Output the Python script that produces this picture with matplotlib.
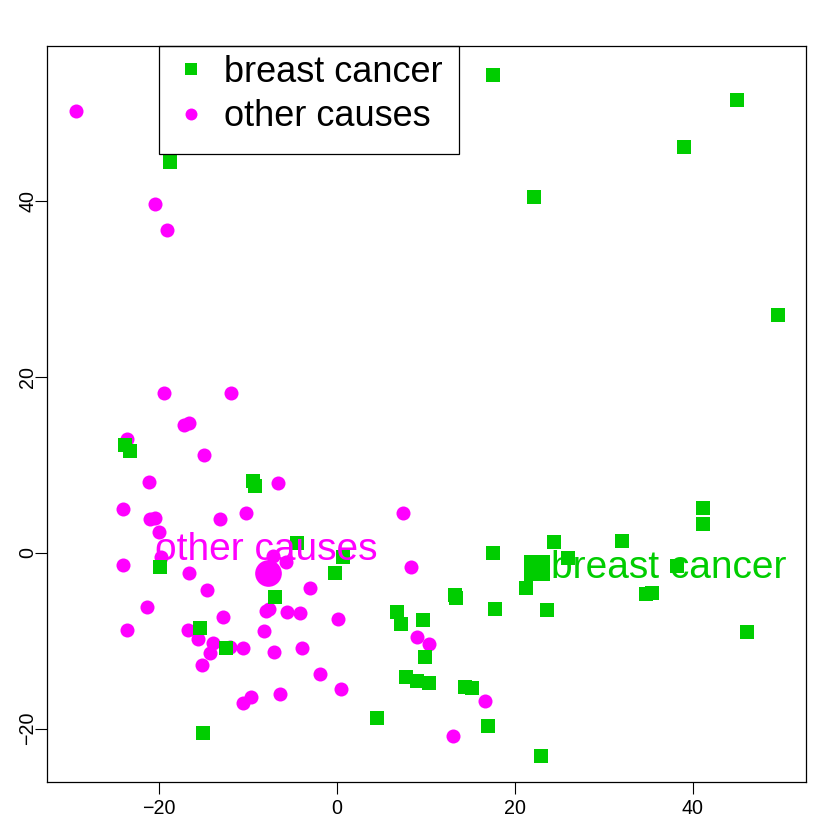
import matplotlib
matplotlib.use("Agg")
import matplotlib.pyplot as plt
from matplotlib.lines import Line2D
from matplotlib.patches import Rectangle

plt.rcParams['font.family'] = ['Liberation Sans', 'DejaVu Sans']

# ---- data -------------------------------------------------------------
bc_x = [17.51, 45.0, 39.07, 22.19, 49.64, -18.82, -23.81, -23.28, -9.41, -9.22,
        -19.94, -4.47, 0.64, -0.22, -7.01, -15.41, -12.45, -15.11, 6.72, 7.17,
        9.71, 9.90, 7.76, 9.03, 10.31, 14.40, 15.19, 4.50, 16.99, 22.98,
        13.27, 13.39, 21.23, 17.77, 23.59, 17.58, 24.41, 25.95, 32.02, 38.21,
        34.76, 35.43, 46.15, 41.20, 41.20, 21.93, 22.95]
bc_y = [54.35, 51.46, 46.11, 40.42, 27.0, 44.48, 12.25, 11.52, 8.11, 7.62,
        -1.67, 1.10, -0.53, -2.24, -5.01, -8.53, -10.84, -20.44, -6.71, -8.11,
        -7.66, -11.83, -14.07, -14.56, -14.76, -15.24, -15.32, -18.81, -19.68, -23.09,
        -4.78, -5.12, -4.02, -6.34, -6.48, -0.03, 1.25, -0.60, 1.37, -1.48,
        -4.66, -4.55, -8.99, 5.04, 3.27, -1.25, -2.16]

oc_x = [-29.39, -20.47, -19.09, -19.43, -11.89, -17.24, -16.68, -23.59, -14.93, -21.15,
        -6.60, -24.07, -21.0, -20.44, -13.13, -10.20, -20.02, -19.80, -24.11, -16.65,
        -5.77, -7.17, 7.39, 8.36, -14.66, -3.04, -21.41, -7.99, -7.65, -5.59,
        -4.16, -12.86, 0.15, -23.62, -16.76, -15.64, -8.25, -13.91, -12.04, -10.54,
        -14.29, -7.09, -3.97, -15.22, -1.91, -9.71, -10.61, -6.41, 0.45, 8.97,
        10.31, 16.65, 13.08]
oc_y = [50.28, 39.67, 36.71, 18.12, 18.12, 14.56, 14.76, 12.94, 11.15, 8.08,
        7.93, 4.93, 3.79, 3.95, 3.83, 4.47, 2.31, -0.46, -1.40, -2.31,
        -1.10, -0.34, 4.58, -1.67, -4.21, -3.95, -6.14, -6.60, -6.34, -6.71,
        -6.79, -7.28, -7.47, -8.76, -8.79, -9.75, -8.84, -10.24, -10.69, -10.81,
        -11.38, -11.26, -10.77, -12.71, -13.73, -16.38, -17.03, -16.01, -15.44, -9.56,
        -10.39, -16.84, -20.82]

centroid_bc = (22.5, -1.76)
centroid_oc = (-7.8, -2.24)

groups = ["breast cancer", "other causes"]
colors = {"breast cancer": "#00CD00", "other causes": "#FF00FF"}

x_ticks = [-20, 0, 20, 40]
y_ticks = [-20, 0, 20, 40]

# ---- figure -----------------------------------------------------------
fig = plt.figure(figsize=(8.3, 8.3), dpi=100)
ax = fig.add_axes([47.3 / 830, 1 - 782 / 830, (805.7 - 47.3) / 830, (782 - 46.5) / 830])

ax.plot(oc_x, oc_y, linestyle='none', marker='o', markersize=10.1, mew=0,
        color=colors["other causes"])
ax.plot(bc_x, bc_y, linestyle='none', marker='s', markersize=10.4, mew=0,
        color=colors["breast cancer"])

ax.plot([centroid_oc[0]], [centroid_oc[1]], linestyle='none', marker='o',
        markersize=19.2, mew=0, color=colors["other causes"])
ax.plot([centroid_bc[0]], [centroid_bc[1]], linestyle='none', marker='s',
        markersize=19.2, mew=0, color=colors["breast cancer"])

ax.text(-7.99, -0.82, "other causes", color=colors["other causes"], fontsize=28,
        ha='center', va='baseline')
ax.text(37.37, -2.90, "breast cancer", color=colors["breast cancer"], fontsize=28,
        ha='center', va='baseline')

ax.set_xlim(-32.59, 52.72)
ax.set_ylim(-26.06, 57.57)
ax.set_xticks(x_ticks)
ax.set_yticks(y_ticks)
ax.tick_params(axis='both', direction='out', length=8.64, width=0.8,
               labelsize=14.1, color='black')
ax.tick_params(axis='x', pad=3.8)
ax.tick_params(axis='y', pad=-1.5)
for lab in ax.get_yticklabels():
    lab.set_rotation(90)
    lab.set_va('center')
for sp in ax.spines.values():
    sp.set_linewidth(0.9)

# ---- legend -----------------------------------------------------------
handles = [Line2D([], [], linestyle='none', marker='s', markersize=8.6, mew=0,
                  color=colors["breast cancer"]),
           Line2D([], [], linestyle='none', marker='o', markersize=8.6, mew=0,
                  color=colors["other causes"])]
ax_w = 805.7 - 47.3
ax_h = 782 - 46.5
anchor_x = (176.9 - 47.3) / ax_w
anchor_y = (782 - 54.8) / ax_h
leg = ax.legend(handles, groups, loc='upper left', bbox_to_anchor=(anchor_x, anchor_y),
                frameon=False, fontsize=26, handlelength=0.8, handletextpad=0.5,
                borderpad=0, borderaxespad=0, labelspacing=0.263)
box = Rectangle(((159 - 47.3) / ax_w, (782 - 154.3) / ax_h),
                (459 - 159) / ax_w, (154.3 - 46.5) / ax_h,
                transform=ax.transAxes, fill=False, lw=0.9, ec='black',
                clip_on=False, zorder=5)
ax.add_patch(box)

fig.savefig("out.png", dpi=100)
